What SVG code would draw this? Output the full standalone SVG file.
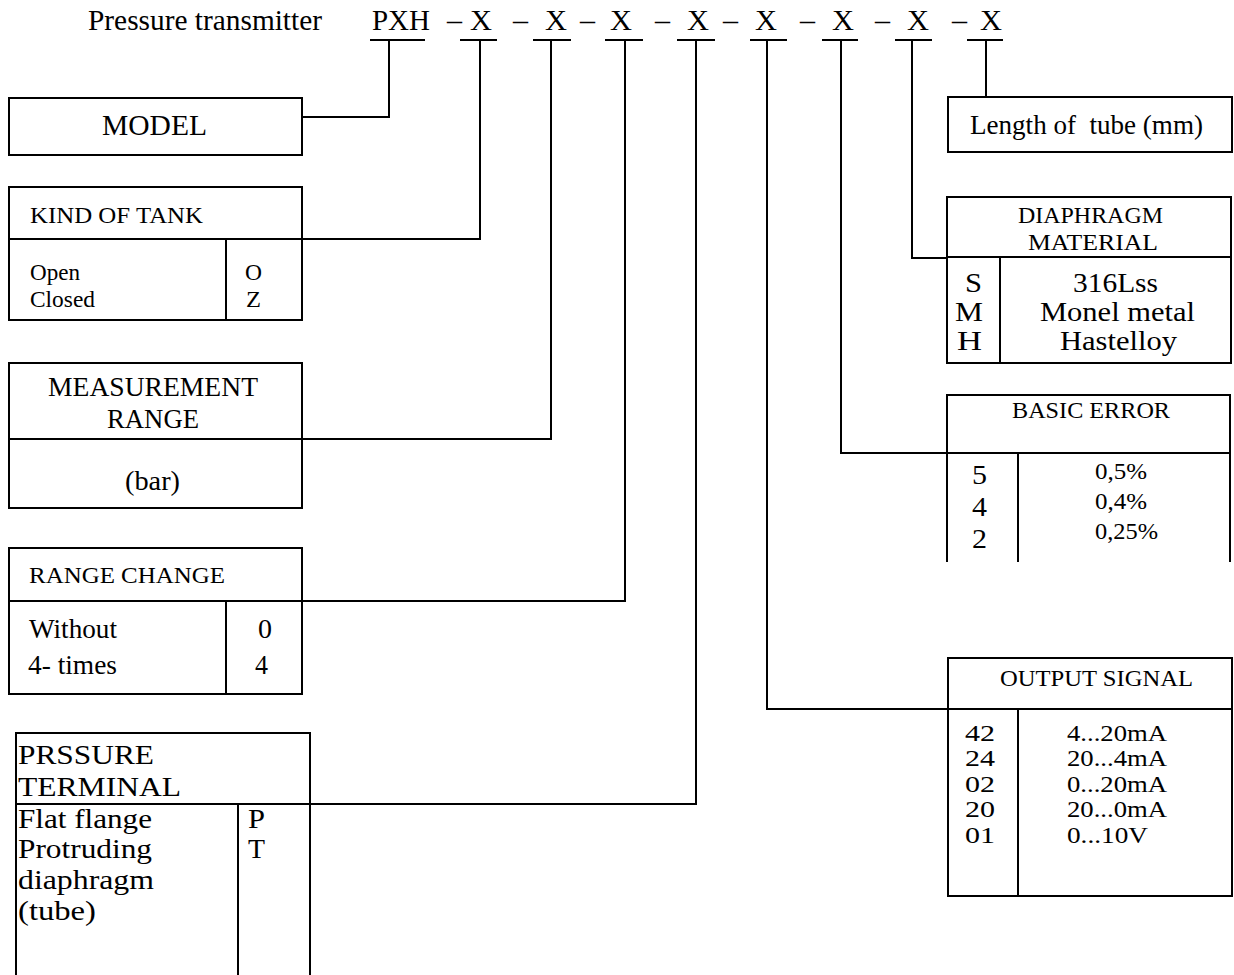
<svg xmlns="http://www.w3.org/2000/svg" width="1234" height="975" viewBox="0 0 1234 975">
<style>
text{font-family:"Liberation Serif","Times New Roman",serif;fill:#000}
.b{fill:none;stroke:#000;stroke-width:2}
.c{fill:none;stroke:#000;stroke-width:2}
</style>
<rect width="1234" height="975" fill="#fff"/>
<g id="title">
<text x="88" y="30" font-size="29" textLength="234" lengthAdjust="spacingAndGlyphs">Pressure transmitter</text>
<text x="372" y="30" font-size="29" textLength="58" lengthAdjust="spacingAndGlyphs">PXH</text>
<g font-size="29">
<text x="447" y="30" textLength="15" lengthAdjust="spacingAndGlyphs">–</text>
<text x="513" y="30" textLength="15" lengthAdjust="spacingAndGlyphs">–</text>
<text x="580" y="30" textLength="15" lengthAdjust="spacingAndGlyphs">–</text>
<text x="655" y="30" textLength="15" lengthAdjust="spacingAndGlyphs">–</text>
<text x="723" y="30" textLength="15" lengthAdjust="spacingAndGlyphs">–</text>
<text x="800" y="30" textLength="15" lengthAdjust="spacingAndGlyphs">–</text>
<text x="875" y="30" textLength="15" lengthAdjust="spacingAndGlyphs">–</text>
<text x="952" y="30" textLength="15" lengthAdjust="spacingAndGlyphs">–</text>
<text x="470" y="30" textLength="22" lengthAdjust="spacingAndGlyphs">X</text>
<text x="545" y="30" textLength="22" lengthAdjust="spacingAndGlyphs">X</text>
<text x="610" y="30" textLength="22" lengthAdjust="spacingAndGlyphs">X</text>
<text x="687" y="30" textLength="22" lengthAdjust="spacingAndGlyphs">X</text>
<text x="755" y="30" textLength="22" lengthAdjust="spacingAndGlyphs">X</text>
<text x="832" y="30" textLength="22" lengthAdjust="spacingAndGlyphs">X</text>
<text x="907" y="30" textLength="22" lengthAdjust="spacingAndGlyphs">X</text>
<text x="980" y="30" textLength="22" lengthAdjust="spacingAndGlyphs">X</text>
</g>
</g>
<g id="connectors" class="c">
<path d="M370 40H425M389 40V117H302"/>
<path d="M460 40H497M480 40V239H302"/>
<path d="M533 40H571M551 40V439H302"/>
<path d="M605 40H643M625 40V601H302"/>
<path d="M677 40H715M696 40V804H310"/>
<path d="M750 40H787M767 40V709H948"/>
<path d="M822 40H858M841 40V453H947"/>
<path d="M895 40H932M912 40V258H947"/>
<path d="M967 40H1003M986 40V97"/>
</g>
<g id="model">
<rect class="b" x="9" y="98" width="293" height="57"/>
<text x="102" y="135" font-size="29" textLength="105" lengthAdjust="spacingAndGlyphs">MODEL</text>
</g>
<g id="kind-of-tank">
<rect class="b" x="9" y="187" width="293" height="133"/>
<path class="b" d="M9 239H302M226 239V320"/>
<text x="30" y="223" font-size="24" textLength="173" lengthAdjust="spacingAndGlyphs">KIND OF TANK</text>
<text x="30" y="280" font-size="23" textLength="50" lengthAdjust="spacingAndGlyphs">Open</text>
<text x="30" y="307" font-size="23" textLength="65" lengthAdjust="spacingAndGlyphs">Closed</text>
<text x="245" y="280" font-size="23" textLength="17" lengthAdjust="spacingAndGlyphs">O</text>
<text x="246" y="307" font-size="23" textLength="15" lengthAdjust="spacingAndGlyphs">Z</text>
</g>
<g id="measurement-range">
<rect class="b" x="9" y="363" width="293" height="145"/>
<path class="b" d="M9 439H302"/>
<text x="48" y="396" font-size="27" textLength="210" lengthAdjust="spacingAndGlyphs">MEASUREMENT</text>
<text x="107" y="428" font-size="27" textLength="92" lengthAdjust="spacingAndGlyphs">RANGE</text>
<text x="125" y="490" font-size="28" textLength="55" lengthAdjust="spacingAndGlyphs">(bar)</text>
</g>
<g id="range-change">
<rect class="b" x="9" y="548" width="293" height="146"/>
<path class="b" d="M9 601H302M226 601V694"/>
<text x="29" y="583" font-size="24" textLength="196" lengthAdjust="spacingAndGlyphs">RANGE CHANGE</text>
<text x="29" y="638" font-size="27" textLength="88" lengthAdjust="spacingAndGlyphs">Without</text>
<text x="28" y="674" font-size="27" textLength="89" lengthAdjust="spacingAndGlyphs">4- times</text>
<text x="258" y="638" font-size="27" textLength="14" lengthAdjust="spacingAndGlyphs">0</text>
<text x="255" y="674" font-size="27" textLength="13" lengthAdjust="spacingAndGlyphs">4</text>
</g>
<g id="pressure-terminal">
<path class="b" d="M16 976V733H310V976M16 804H310M238 804V976"/>
<text x="18" y="764" font-size="28" textLength="136" lengthAdjust="spacingAndGlyphs">PRSSURE</text>
<text x="18" y="796" font-size="28" textLength="163" lengthAdjust="spacingAndGlyphs">TERMINAL</text>
<text x="18" y="828" font-size="28" textLength="134" lengthAdjust="spacingAndGlyphs">Flat flange</text>
<text x="18" y="858" font-size="28" textLength="134" lengthAdjust="spacingAndGlyphs">Protruding</text>
<text x="18" y="889" font-size="28" textLength="136" lengthAdjust="spacingAndGlyphs">diaphragm</text>
<text x="18" y="920" font-size="28" textLength="78" lengthAdjust="spacingAndGlyphs">(tube)</text>
<text x="248" y="828" font-size="28" textLength="17" lengthAdjust="spacingAndGlyphs">P</text>
<text x="248" y="858" font-size="28" textLength="17" lengthAdjust="spacingAndGlyphs">T</text>
</g>
<g id="length-of-tube">
<rect class="b" x="948" y="97" width="284" height="55"/>
<text x="970" y="134" font-size="27" textLength="233" lengthAdjust="spacingAndGlyphs" style="white-space:pre">Length of  tube (mm)</text>
</g>
<g id="diaphragm-material">
<rect class="b" x="947" y="197" width="284" height="166"/>
<path class="b" d="M947 257H1231M1000 257V363"/>
<text x="1018" y="223" font-size="24" textLength="145" lengthAdjust="spacingAndGlyphs">DIAPHRAGM</text>
<text x="1028" y="250" font-size="24" textLength="130" lengthAdjust="spacingAndGlyphs">MATERIAL</text>
<text x="965" y="292" font-size="27" textLength="17" lengthAdjust="spacingAndGlyphs">S</text>
<text x="955" y="321" font-size="27" textLength="28" lengthAdjust="spacingAndGlyphs">M</text>
<text x="957" y="350" font-size="27" textLength="25" lengthAdjust="spacingAndGlyphs">H</text>
<text x="1073" y="292" font-size="27" textLength="85" lengthAdjust="spacingAndGlyphs">316Lss</text>
<text x="1040" y="321" font-size="27" textLength="155" lengthAdjust="spacingAndGlyphs">Monel metal</text>
<text x="1060" y="350" font-size="27" textLength="117" lengthAdjust="spacingAndGlyphs">Hastelloy</text>
</g>
<g id="basic-error">
<path class="b" d="M947 562V395H1230V562M947 453H1230M1018 453V562"/>
<text x="1012" y="418" font-size="24" textLength="158" lengthAdjust="spacingAndGlyphs">BASIC ERROR</text>
<text x="972" y="484" font-size="27" textLength="15" lengthAdjust="spacingAndGlyphs">5</text>
<text x="972" y="516" font-size="27" textLength="15" lengthAdjust="spacingAndGlyphs">4</text>
<text x="972" y="548" font-size="27" textLength="15" lengthAdjust="spacingAndGlyphs">2</text>
<text x="1095" y="479" font-size="24" textLength="52" lengthAdjust="spacingAndGlyphs">0,5%</text>
<text x="1095" y="509" font-size="24" textLength="52" lengthAdjust="spacingAndGlyphs">0,4%</text>
<text x="1095" y="539" font-size="24" textLength="63" lengthAdjust="spacingAndGlyphs">0,25%</text>
</g>
<g id="output-signal">
<rect class="b" x="948" y="658" width="284" height="238"/>
<path class="b" d="M948 709H1232M1018 709V896"/>
<text x="1000" y="686" font-size="24" textLength="193" lengthAdjust="spacingAndGlyphs">OUTPUT SIGNAL</text>
<g font-size="24">
<text x="965" y="741" textLength="30" lengthAdjust="spacingAndGlyphs">42</text>
<text x="965" y="766" textLength="30" lengthAdjust="spacingAndGlyphs">24</text>
<text x="965" y="792" textLength="30" lengthAdjust="spacingAndGlyphs">02</text>
<text x="965" y="817" textLength="30" lengthAdjust="spacingAndGlyphs">20</text>
<text x="965" y="843" textLength="30" lengthAdjust="spacingAndGlyphs">01</text>
<text x="1067" y="741" textLength="100" lengthAdjust="spacingAndGlyphs">4...20mA</text>
<text x="1067" y="766" textLength="100" lengthAdjust="spacingAndGlyphs">20...4mA</text>
<text x="1067" y="792" textLength="100" lengthAdjust="spacingAndGlyphs">0...20mA</text>
<text x="1067" y="817" textLength="100" lengthAdjust="spacingAndGlyphs">20...0mA</text>
<text x="1067" y="843" textLength="81" lengthAdjust="spacingAndGlyphs">0...10V</text>
</g>
</g>
</svg>
